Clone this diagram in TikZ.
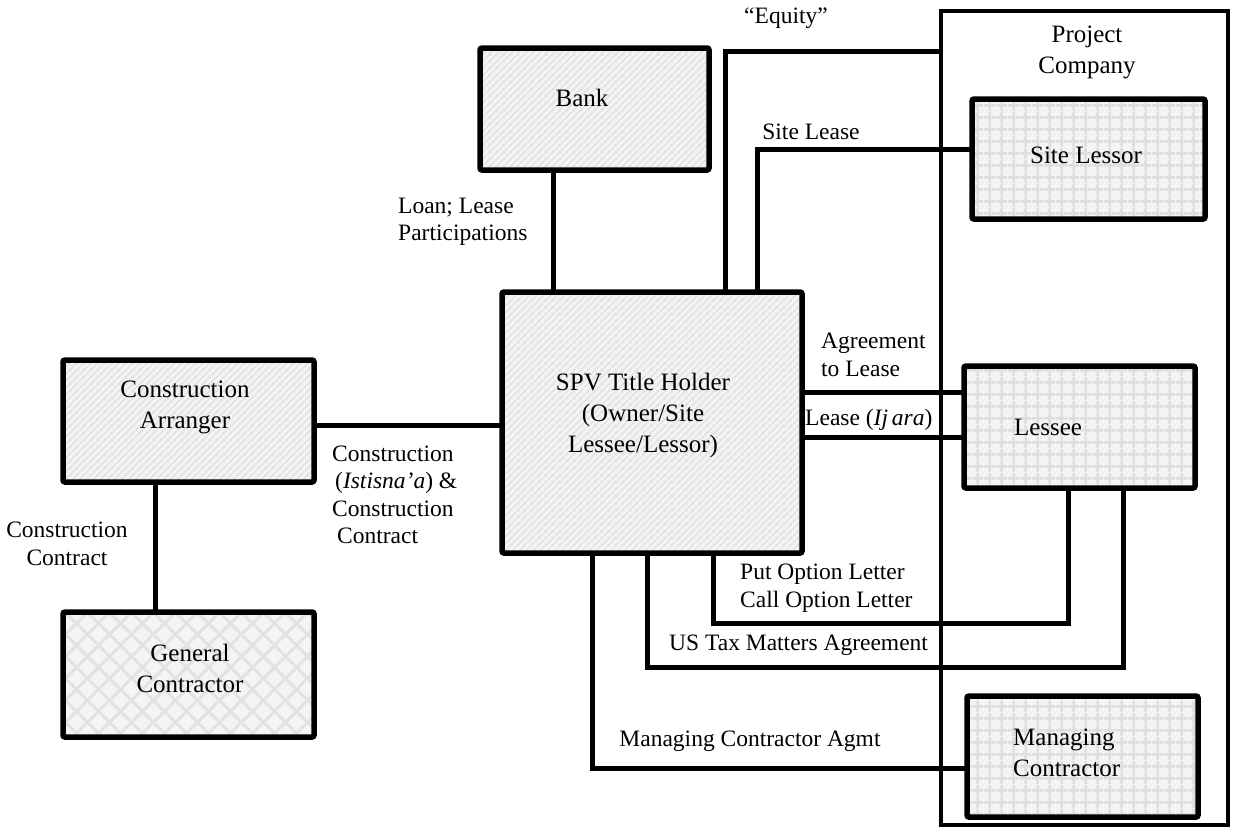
\documentclass[tikz,border=0pt]{standalone}
\usepackage{fontspec}
\setmainfont{Liberation Serif}
\usetikzlibrary{patterns.meta,calc}

\definecolor{bgc}{RGB}{244,244,246}
\definecolor{stripec}{RGB}{226,226,226}
\definecolor{gridc}{RGB}{222,222,222}
\definecolor{diamc}{RGB}{226,226,226}

\tikzdeclarepattern{
  name=diagstripes,
  type=uncolored,
  bounding box={(0pt,0pt) and (7pt,7pt)},
  tile size={(7pt,7pt)},
  code={
    \draw[line width=1.6pt] (-1pt,-1pt) -- (8pt,8pt);
    \draw[line width=1.6pt] (-1pt,6pt) -- (1pt,8pt);
    \draw[line width=1.6pt] (6pt,-1pt) -- (8pt,1pt);
  }
}
\tikzdeclarepattern{
  name=gridcells,
  type=uncolored,
  bounding box={(0pt,0pt) and (12pt,12pt)},
  tile size={(12pt,12pt)},
  code={
    \draw[line width=2.8pt] (0pt,6pt) -- (12pt,6pt);
    \draw[line width=2.8pt] (6pt,0pt) -- (6pt,12pt);
  }
}
\tikzdeclarepattern{
  name=diamonds,
  type=uncolored,
  bounding box={(0pt,0pt) and (22pt,22pt)},
  tile size={(22pt,22pt)},
  code={
    \draw[line width=3pt] (-2pt,-2pt) -- (24pt,24pt);
    \draw[line width=3pt] (-2pt,24pt) -- (24pt,-2pt);
  }
}

\pgfdeclarelayer{bg}
\pgfsetlayers{bg,main}

\tikzset{
  boxbase/.style={draw, line width=5.5pt, rounded corners=2pt, inner sep=0pt, outer sep=0pt, preaction={fill=bgc}},
  stripebox/.style={boxbase, pattern=diagstripes, pattern color=stripec},
  gridbox/.style={boxbase, pattern=gridcells, pattern color=gridc},
  diamondbox/.style={boxbase, pattern=diamonds, pattern color=diamc},
  groupbox/.style={draw, line width=4.5pt, inner sep=0pt, outer sep=0pt},
  conn/.style={line width=5pt},
  boxtxt/.style={font=\fontsize{25}{31}\selectfont, align=center, inner sep=0pt},
  lbl/.style={font=\fontsize{23.5}{27.5}\selectfont, align=left, inner sep=0pt},
}

\begin{document}
\begin{tikzpicture}[x=1pt,y=-1pt]
\useasboundingbox (0,0) rectangle (1233,831);

% boxes
\node[stripebox, minimum width=229pt, minimum height=122pt] (bank) at (594.5,109) {};
\node[stripebox, minimum width=300pt, minimum height=261pt] (spv) at (652,422.5) {};
\node[stripebox, minimum width=251pt, minimum height=122pt] (ca) at (188.5,421) {};
\node[diamondbox, minimum width=251pt, minimum height=125pt] (gc) at (188.5,674.5) {};
\node[gridbox, minimum width=233pt, minimum height=120pt] (sl) at (1088.5,159) {};
\node[gridbox, minimum width=231pt, minimum height=122pt] (lessee) at (1079.5,427) {};
\node[gridbox, minimum width=231pt, minimum height=121pt] (mc) at (1082.5,756.5) {};

\begin{pgfonlayer}{bg}
\node[groupbox, minimum width=287pt, minimum height=814pt] (pc) at (1084.5,418) {};
% connectors
\draw[conn] (bank.south -| 553,0) -- (spv.north -| 553,0);
\draw[conn] (spv.north -| 725,0) |- (pc.west |- 0,51);
\draw[conn] (spv.north -| 757,0) |- (sl.west |- 0,149);
\draw[conn] (spv.east |- 0,392) -- (lessee.west |- 0,392);
\draw[conn] (spv.east |- 0,437) -- (lessee.west |- 0,437);
\draw[conn] (spv.west |- 0,425) -- (ca.east |- 0,425);
\draw[conn] (ca.south -| 155,0) -- (gc.north -| 155,0);
\coordinate (pcturn) at (1068,623);
\coordinate (taxturn) at (1123,667);
\draw[conn] (spv.south -| 713,0) |- (pcturn) -- (lessee.south -| pcturn);
\draw[conn] (spv.south -| 647,0) |- (taxturn) -- (lessee.south -| taxturn);
\draw[conn] (spv.south -| 592,0) |- (mc.west |- 0,768);
\end{pgfonlayer}

% box texts
\node[boxtxt] (banktxt) at (582,98) {Bank};
\node[boxtxt] (spvtxt) at (643,415) {SPV Title Holder\\(Owner/Site\\Lessee/Lessor)};
\node[boxtxt] (catxt) at (185,407) {Construction\\Arranger};
\node[boxtxt] (gctxt) at (190,668) {General\\Contractor};
\node[boxtxt] (sltxt) at (1086,155) {Site Lessor};
\node[boxtxt] (lesseetxt) at (1048,427) {Lessee};
\node[boxtxt, align=left, anchor=west] (mctxt) at (1013,753) {Managing\\Contractor};
\node[boxtxt] (pctxt) at (1087,52) {Project\\Company};

% connector labels
\node[lbl] (eqlbl) at (786,18) {“Equity”};
\node[lbl, anchor=west] (loanlbl) at (398,222) {Loan; Lease\\Participations};
\node[lbl] (sitelbl) at (811,132) {Site Lease};
\node[lbl, anchor=west] (agrlbl) at (821,355) {Agreement\\to Lease};
\node[lbl, anchor=west] (leaselbl) at (805,420) {Lease (\textit{Ij\,ara})};
\node[lbl, anchor=west] (constrlbl) at (332,495) {Construction\\\hspace*{3pt}(\textit{Istisna’a}) \&\\Construction\\\hspace*{5pt}Contract};
\node[lbl, align=center] (cclbl) at (67,544) {Construction\\Contract};
\node[lbl, anchor=west] (putlbl) at (740,588) {Put Option Letter\\Call Option Letter};
\node[lbl, anchor=west] (taxlbl) at (669,645) {US Tax Matters Agreement};
\node[lbl] (mcalbl) at (750,741) {Managing Contractor Agmt};
\end{tikzpicture}
\end{document}
